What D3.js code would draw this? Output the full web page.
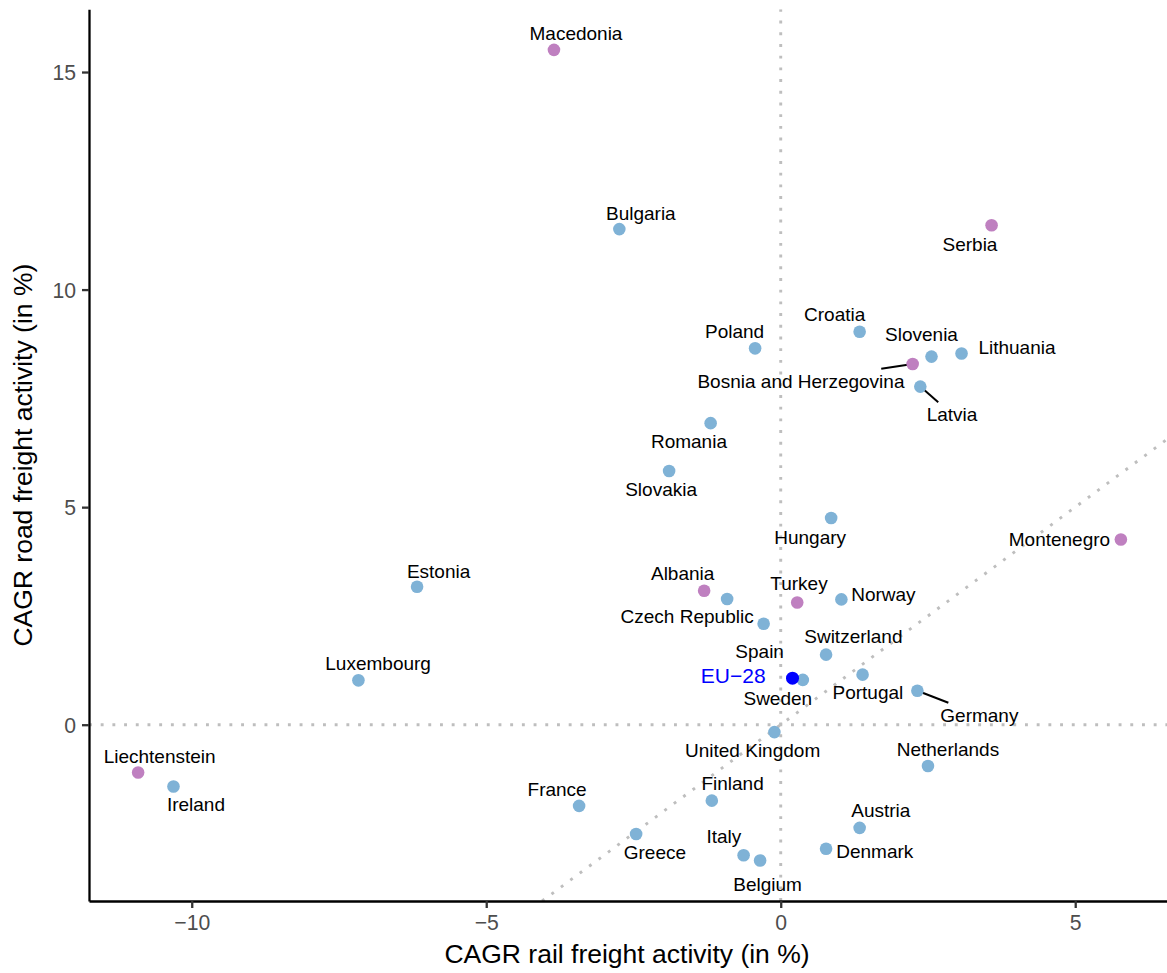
<!DOCTYPE html>
<html>
<head>
<meta charset="utf-8">
<script src="https://cdn.jsdelivr.net/npm/d3@7"></script>
<style>
  html, body { margin: 0; padding: 0; background: #fff; }
  svg { display: block; font-family: "Liberation Sans", Arial, Helvetica, sans-serif; }
</style>
</head>
<body>
<svg id="chart" width="1167" height="973"></svg>
<script>
// Compound annual growth rates of freight activity, by country
const countries = [
  "Macedonia", "Bulgaria", "Serbia", "Croatia", "Poland", "Slovenia", "Lithuania",
  "Bosnia and Herzegovina", "Latvia", "Romania", "Slovakia", "Hungary", "Montenegro",
  "Estonia", "Luxembourg", "Liechtenstein", "Ireland", "Albania", "Czech Republic",
  "Turkey", "Norway", "Spain", "Switzerland", "Sweden", "Portugal", "Germany",
  "United Kingdom", "Netherlands", "Finland", "France", "Greece", "Italy", "Belgium",
  "Austria", "Denmark"
];
const railCagr = [
  -3.85, -2.74, 3.58, 1.34, -0.435, 2.56, 3.07,
  2.24, 2.37, -1.19, -1.895, 0.856, 5.775,
  -6.174, -7.17, -10.91, -10.31, -1.30, -0.91,
  0.28, 1.03, -0.29, 0.77, 0.375, 1.39, 2.32,
  -0.107, 2.50, -1.17, -3.423, -2.455, -0.63, -0.35,
  1.34, 0.77
];
const roadCagr = [
  15.51, 11.39, 11.48, 9.03, 8.65, 8.46, 8.53,
  8.29, 7.77, 6.93, 5.83, 4.75, 4.255,
  3.17, 1.02, -1.10, -1.42, 3.08, 2.89,
  2.81, 2.88, 2.32, 1.61, 1.03, 1.15, 0.78,
  -0.17, -0.95, -1.745, -1.866, -2.51, -3.00, -3.12,
  -2.37, -2.85
];
// 1 = EU / EFTA members, 2 = other countries
const group = [
  2, 1, 2, 1, 1, 1, 1,
  2, 1, 1, 1, 1, 2,
  1, 1, 2, 1, 2, 1,
  2, 1, 1, 1, 1, 1, 1,
  1, 1, 1, 1, 1, 1, 1,
  1, 1
];
// EU-28 aggregate
const aggregateName = "EU\u221228";
const aggregateRail = 0.20;
const aggregateRoad = 1.07;

const xTicks = [-10, -5, 0, 5];
const yTicks = [0, 5, 10, 15];
const xTitle = "CAGR rail freight activity (in %)";
const yTitle = "CAGR road freight activity (in %)";

// Label placement: offset of each label centre from its point, in pixels
const labelOffset = [
  [22, -17], [21.5, -16], [-21.6, 19], [-25, -18], [-20.5, -17], [-10, -22], [55.4, -6],
  [-111.7, 16.7], [31.7, 27.6], [-21.7, 18.4], [-8, 18], [-21, 19], [-61.4, 0],
  [21.5, -16], [19.7, -16.7], [21.5, -16.3], [22.5, 17.6], [-21.5, -17.7], [-40, 17.7],
  [1.8, -19.4], [42, -5.7], [-4, 27.7], [27.3, -18.7], [-25, 18.3], [5.3, 17.7], [62, 24],
  [-21.8, 18.4], [20, -17], [20.8, -17], [-22, -17], [18.8, 18.4], [-19.7, -19], [7.5, 23.3],
  [21.2, -17.3], [48.7, 2.4]
];
const aggregateLabelOffset = [-59.3, -2.3];

const data = countries.map((c, i) => ({
  name: c, x: railCagr[i], y: roadCagr[i], g: group[i],
  dx: labelOffset[i][0], dy: labelOffset[i][1]
}));

const svg = d3.select("#chart");
const panel = { left: 89, right: 1170, top: 9.3, bottom: 901 };

// ggplot-style 5% expansion of the data range
function expand(ext) {
  const pad = (ext[1] - ext[0]) * 0.05;
  return [ext[0] - pad, ext[1] + pad];
}
const xAll = railCagr.concat([aggregateRail]);
const yAll = roadCagr.concat([aggregateRoad]);
const x = d3.scaleLinear().domain(expand(d3.extent(xAll))).range([panel.left, panel.right]);
const y = d3.scaleLinear().domain(expand(d3.extent(yAll))).range([panel.bottom, panel.top]);

const colour = d3.scaleOrdinal().domain([1, 2]).range(["#7fb2d6", "#bf80c0"]);

svg.append("clipPath").attr("id", "panel-clip")
  .append("rect")
  .attr("x", panel.left).attr("y", panel.top)
  .attr("width", panel.right - panel.left).attr("height", panel.bottom - panel.top);

// Reference lines: zero growth on each axis and equal growth (y = x)
const refs = svg.append("g").attr("clip-path", "url(#panel-clip)")
  .attr("stroke", "#bebebe").attr("stroke-width", 2.9)
  .attr("stroke-dasharray", "2.9 8.8").attr("fill", "none");
const [x0, x1] = x.domain();
const [y0, y1] = y.domain();
refs.append("line").attr("x1", x(0)).attr("x2", x(0)).attr("y1", y(y0)).attr("y2", y(y1));
refs.append("line").attr("x1", x(x0)).attr("x2", x(x1)).attr("y1", y(0)).attr("y2", y(0));
const d0 = Math.max(x0, y0), d1 = Math.min(x1, y1);
refs.append("line").attr("x1", x(d0)).attr("y1", y(d0)).attr("x2", x(d1)).attr("y2", y(d1));

// Axes
const xAxis = svg.append("g")
  .attr("transform", `translate(0,${panel.bottom})`)
  .call(d3.axisBottom(x).tickValues(xTicks).tickSize(7).tickSizeOuter(0).tickPadding(7));
const yAxis = svg.append("g")
  .attr("transform", `translate(${panel.left},0)`)
  .call(d3.axisLeft(y).tickValues(yTicks).tickSize(7).tickSizeOuter(0).tickPadding(6));

[xAxis, yAxis].forEach(ax => {
  ax.select(".domain").attr("stroke", "#000").attr("stroke-width", 2.3);
  ax.selectAll(".tick line").attr("stroke", "#333").attr("stroke-width", 2.3);
  ax.selectAll(".tick text")
    .attr("fill", "#4d4d4d")
    .style("font-size", "21.2px")
    .style("font-family", "\"Liberation Sans\", Arial, sans-serif");
});
xAxis.selectAll(".tick text").attr("y", 21).attr("dy", "0.36em");
yAxis.selectAll(".tick text").attr("dy", "0.36em");

// Axis titles
svg.append("text")
  .attr("x", 627).attr("y", 953.5).attr("dy", "0.36em")
  .attr("text-anchor", "middle")
  .style("font-size", "26.5px")
  .text(xTitle);
svg.append("text")
  .attr("transform", `translate(22.5,${(panel.top + panel.bottom) / 2}) rotate(-90)`)
  .attr("dy", "0.36em")
  .attr("text-anchor", "middle")
  .style("font-size", "26.5px")
  .text(yTitle);

// Labels (placed first so that leader segments can be measured)
const plot = svg.append("g");
const segLayer = plot.append("g");
const dotLayer = plot.append("g");
const labelLayer = plot.append("g");

const labels = labelLayer.selectAll("text.country")
  .data(data)
  .join("text")
  .attr("class", "country")
  .attr("x", d => x(d.x) + d.dx)
  .attr("y", d => y(d.y) + d.dy)
  .attr("dy", "0.36em")
  .attr("text-anchor", "middle")
  .style("font-size", "19px")
  .attr("fill", "#000")
  .text(d => d.name);

// Leader segments for labels pushed far from their point
labels.each(function(d) {
  const w = this.getComputedTextLength();
  const hw = w / 2 + 2, hh = 12;
  const cx = x(d.x) + d.dx, cy = y(d.y) + d.dy;
  const px = x(d.x), py = y(d.y);
  const vx = px - cx, vy = py - cy;
  const t = Math.min(vx === 0 ? Infinity : hw / Math.abs(vx), vy === 0 ? Infinity : hh / Math.abs(vy));
  if (t >= 1) return;
  const len = (1 - t) * Math.hypot(vx, vy);
  if (len < 20) return;
  segLayer.append("line")
    .attr("x1", cx + t * vx).attr("y1", cy + t * vy)
    .attr("x2", px).attr("y2", py)
    .attr("stroke", "#000").attr("stroke-width", 2);
});

// Country points
dotLayer.selectAll("circle")
  .data(data)
  .join("circle")
  .attr("cx", d => x(d.x))
  .attr("cy", d => y(d.y))
  .attr("r", 6.3)
  .attr("fill", d => colour(d.g));

// EU-28 aggregate
dotLayer.append("circle")
  .attr("cx", x(aggregateRail)).attr("cy", y(aggregateRoad))
  .attr("r", 6.5).attr("fill", "#0000ff");
labelLayer.append("text")
  .attr("x", x(aggregateRail) + aggregateLabelOffset[0])
  .attr("y", y(aggregateRoad) + aggregateLabelOffset[1])
  .attr("dy", "0.36em")
  .attr("text-anchor", "middle")
  .style("font-size", "21px")
  .attr("fill", "#0000ff")
  .text(aggregateName);
</script>
</body>
</html>
